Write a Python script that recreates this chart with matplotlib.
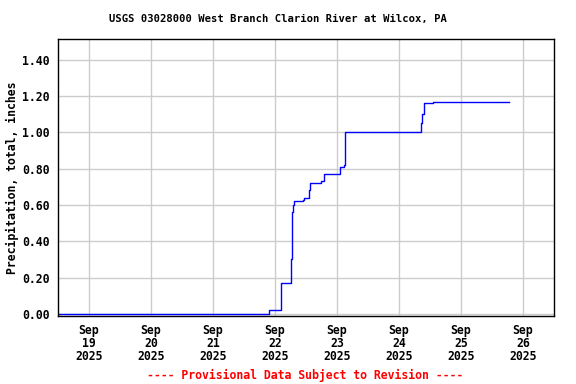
import matplotlib
matplotlib.use("Agg")
import matplotlib.pyplot as plt
import matplotlib.dates as mdates
import pandas as pd
import numpy as np

# cumulative precipitation
times = ["2025-09-18 12:00", "2025-09-21 21:48", "2025-09-22 02:12", "2025-09-22 02:20",
         "2025-09-22 06:12", "2025-09-22 06:30", "2025-09-22 06:42", "2025-09-22 07:06",
         "2025-09-22 07:30", "2025-09-22 10:42", "2025-09-22 11:12", "2025-09-22 12:24",
         "2025-09-22 13:00", "2025-09-22 13:24", "2025-09-22 17:48", "2025-09-22 19:06",
         "2025-09-23 01:18", "2025-09-23 02:48", "2025-09-23 03:06", "2025-09-24 08:24",
         "2025-09-24 09:00", "2025-09-24 09:48", "2025-09-24 13:18", "2025-09-25 18:36"]
precip = [0.00, 0.02, 0.08, 0.17,
          0.30, 0.50, 0.56, 0.60,
          0.62, 0.63, 0.64, 0.64,
          0.68, 0.72, 0.73, 0.77,
          0.81, 0.82, 1.00, 1.05,
          1.10, 1.16, 1.17, 1.17]
t = pd.to_datetime(times)

tick_days = pd.date_range("2025-09-19", "2025-09-26", freq="D")
tick_labels = [d.strftime("%b\n%d\n%Y") for d in tick_days]
yticks = [0.0, 0.2, 0.4, 0.6, 0.8, 1.0, 1.2, 1.4]

font = {"family": "DejaVu Sans Mono", "weight": "bold", "size": 8.3}

fig = plt.figure(figsize=(5.76, 3.84), dpi=100)
ax = fig.add_axes([58/576, 1-316/384, (554-58)/576, (316-39)/384])

ax.step(t, precip, where="post", color="blue", lw=1)

ax.set_xlim(pd.Timestamp("2025-09-18 12:00"), pd.Timestamp("2025-09-26 12:00"))
ax.set_ylim(-0.012, 1.515)
ax.set_xticks(tick_days)
ax.set_xticklabels(tick_labels, fontdict=font, linespacing=1.0)
ax.set_yticks(yticks)
ax.set_yticklabels(["%.2f" % v for v in yticks], fontdict=font)
ax.tick_params(length=0, pad=6)
ax.grid(True, color="#cccccc", lw=1)
ax.set_axisbelow(True)
for s in ax.spines.values():
    s.set_linewidth(1)
    s.set_color("black")

ax.set_ylabel("Precipitation, total, inches", fontdict=font, labelpad=2)
fig.text(278/576, 1-19/384, "USGS 03028000 West Branch Clarion River at Wilcox, PA",
         ha="center", va="center", family="DejaVu Sans Mono", weight="bold", size=7.6)
fig.text(305/576, 1-375/384, "---- Provisional Data Subject to Revision ----",
         ha="center", va="center", color="red", **font)

fig.savefig("out.png", dpi=100)
